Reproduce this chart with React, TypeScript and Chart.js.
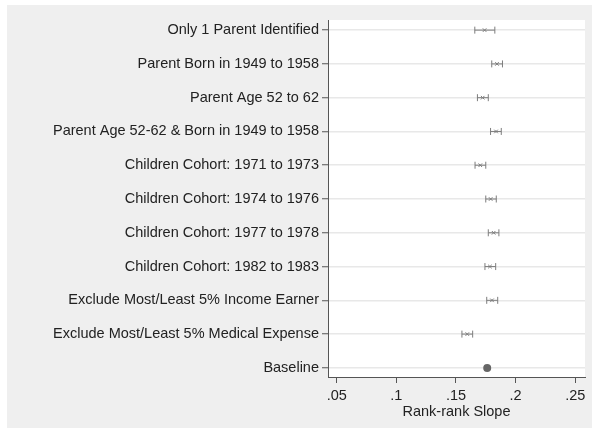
import React, { useEffect, useRef } from "react";
import { Chart, registerables } from "chart.js";

Chart.register(...registerables);

const categories = [
  "Only 1 Parent Identified",
  "Parent Born in 1949 to 1958",
  "Parent Age 52 to 62",
  "Parent Age 52-62 & Born in 1949 to 1958",
  "Children Cohort: 1971 to 1973",
  "Children Cohort: 1974 to 1976",
  "Children Cohort: 1977 to 1978",
  "Children Cohort: 1982 to 1983",
  "Exclude Most/Least 5% Income Earner",
  "Exclude Most/Least 5% Medical Expense",
  "Baseline",
];

const estimates = [0.1740, 0.1844, 0.1724, 0.1836, 0.1704, 0.1791, 0.1816, 0.1785, 0.1802, 0.1595, 0.1762];
const ciLow = [0.1658, 0.1800, 0.1680, 0.1790, 0.1660, 0.1750, 0.1771, 0.1743, 0.1758, 0.1550, 0.1748];
const ciHigh = [0.1826, 0.1890, 0.1771, 0.1880, 0.1750, 0.1838, 0.1860, 0.1833, 0.1850, 0.1640, 0.1776];

const xTickValues = [0.05, 0.1, 0.15, 0.2, 0.25];
const xTickLabels = [".05", ".1", ".15", ".2", ".25"];

const FONT = "'Liberation Sans', Arial, Helvetica, sans-serif";
const FS = 14.5;

export default function App() {
  const ref = useRef<HTMLCanvasElement | null>(null);

  useEffect(() => {
    document.body.style.margin = "0";
    const canvas = ref.current;
    if (!canvas) return;

    const bgPlugin = {
      id: "bg",
      beforeDraw(chart: any) {
        const { ctx, chartArea } = chart;
        ctx.save();
        ctx.fillStyle = "#ffffff";
        ctx.fillRect(0, 0, chart.width, chart.height);
        ctx.fillStyle = "#efefef";
        ctx.fillRect(7, 5, chart.width - 7, 423);
        ctx.fillStyle = "#ffffff";
        ctx.fillRect(chartArea.left, chartArea.top, chartArea.right - chartArea.left, chartArea.bottom - chartArea.top);
        ctx.restore();
      },
    };

    const errPlugin = {
      id: "errbars",
      beforeDatasetsDraw(chart: any) {
        const { ctx } = chart;
        const xs = chart.scales.x;
        const ys = chart.scales.y;
        ctx.save();
        ctx.strokeStyle = "#7d7d7d";
        ctx.lineWidth = 1;
        for (let i = 0; i < categories.length - 1; i++) {
          const y = ys.getPixelForValue(i);
          const x1 = xs.getPixelForValue(ciLow[i]);
          const x2 = xs.getPixelForValue(ciHigh[i]);
          ctx.beginPath();
          ctx.moveTo(x1, y);
          ctx.lineTo(x2, y);
          ctx.moveTo(x1, y - 3.5);
          ctx.lineTo(x1, y + 3.5);
          ctx.moveTo(x2, y - 3.5);
          ctx.lineTo(x2, y + 3.5);
          ctx.stroke();
        }
        ctx.restore();
      },
    };

    const n = categories.length;
    const chart = new Chart(canvas, {
      type: "scatter",
      data: {
        datasets: [
          {
            data: estimates.slice(0, n - 1).map((v, i) => ({ x: v, y: i })),
            pointStyle: "crossRot",
            pointRadius: 2.5,
            borderColor: "#7d7d7d",
            backgroundColor: "#7d7d7d",
            borderWidth: 1,
          },
          {
            data: [{ x: estimates[n - 1], y: n - 1 }],
            pointStyle: "circle",
            pointRadius: 4,
            borderColor: "#666666",
            backgroundColor: "#666666",
            borderWidth: 0,
          },
        ],
      },
      options: {
        responsive: false,
        animation: false,
        devicePixelRatio: 1,
        layout: { padding: { top: 20, right: 7, bottom: 0, left: 0 } },
        plugins: { legend: { display: false }, tooltip: { enabled: false } },
        scales: {
          x: {
            type: "linear",
            min: 0.0427,
            max: 0.2582,
            afterBuildTicks: (s: any) => {
              s.ticks = xTickValues.map((v) => ({ value: v }));
            },
            afterFit: (s: any) => {
              s.height = 58;
            },
            border: { display: true, color: "#555555", width: 1 },
            grid: {
              drawOnChartArea: false,
              drawTicks: true,
              tickLength: 6,
              tickColor: "#555555",
              tickWidth: 1,
            },
            ticks: {
              padding: 4,
              color: "#222222",
              font: { family: FONT, size: FS },
              maxRotation: 0,
              callback: (v: any) => {
                const idx = xTickValues.findIndex((t) => Math.abs(t - Number(v)) < 1e-9);
                return idx >= 0 ? xTickLabels[idx] : "";
              },
            },
            title: {
              display: true,
              text: "Rank-rank Slope",
              color: "#222222",
              font: { family: FONT, size: FS },
              padding: { top: 0, bottom: 14 },
            },
          },
          y: {
            type: "linear",
            reverse: true,
            min: -0.3,
            max: 10.27,
            afterBuildTicks: (s: any) => {
              s.ticks = categories.map((_, i) => ({ value: i }));
            },
            afterFit: (s: any) => {
              s.width = 328;
            },
            border: { display: true, color: "#555555", width: 1 },
            grid: {
              drawOnChartArea: true,
              drawTicks: true,
              color: "#e8e8e8",
              lineWidth: 1.5,
              tickLength: 6,
              tickColor: "#555555",
              tickWidth: 1,
            },
            ticks: {
              padding: 3,
              color: "#222222",
              font: { family: FONT, size: FS },
              autoSkip: false,
              callback: (v: any) => categories[Math.round(Number(v))] ?? "",
            },
          },
        },
      },
      plugins: [bgPlugin, errPlugin],
    });

    return () => chart.destroy();
  }, []);

  return <canvas ref={ref} width={592} height={435} style={{ display: "block", width: 592, height: 435 }} />;
}
